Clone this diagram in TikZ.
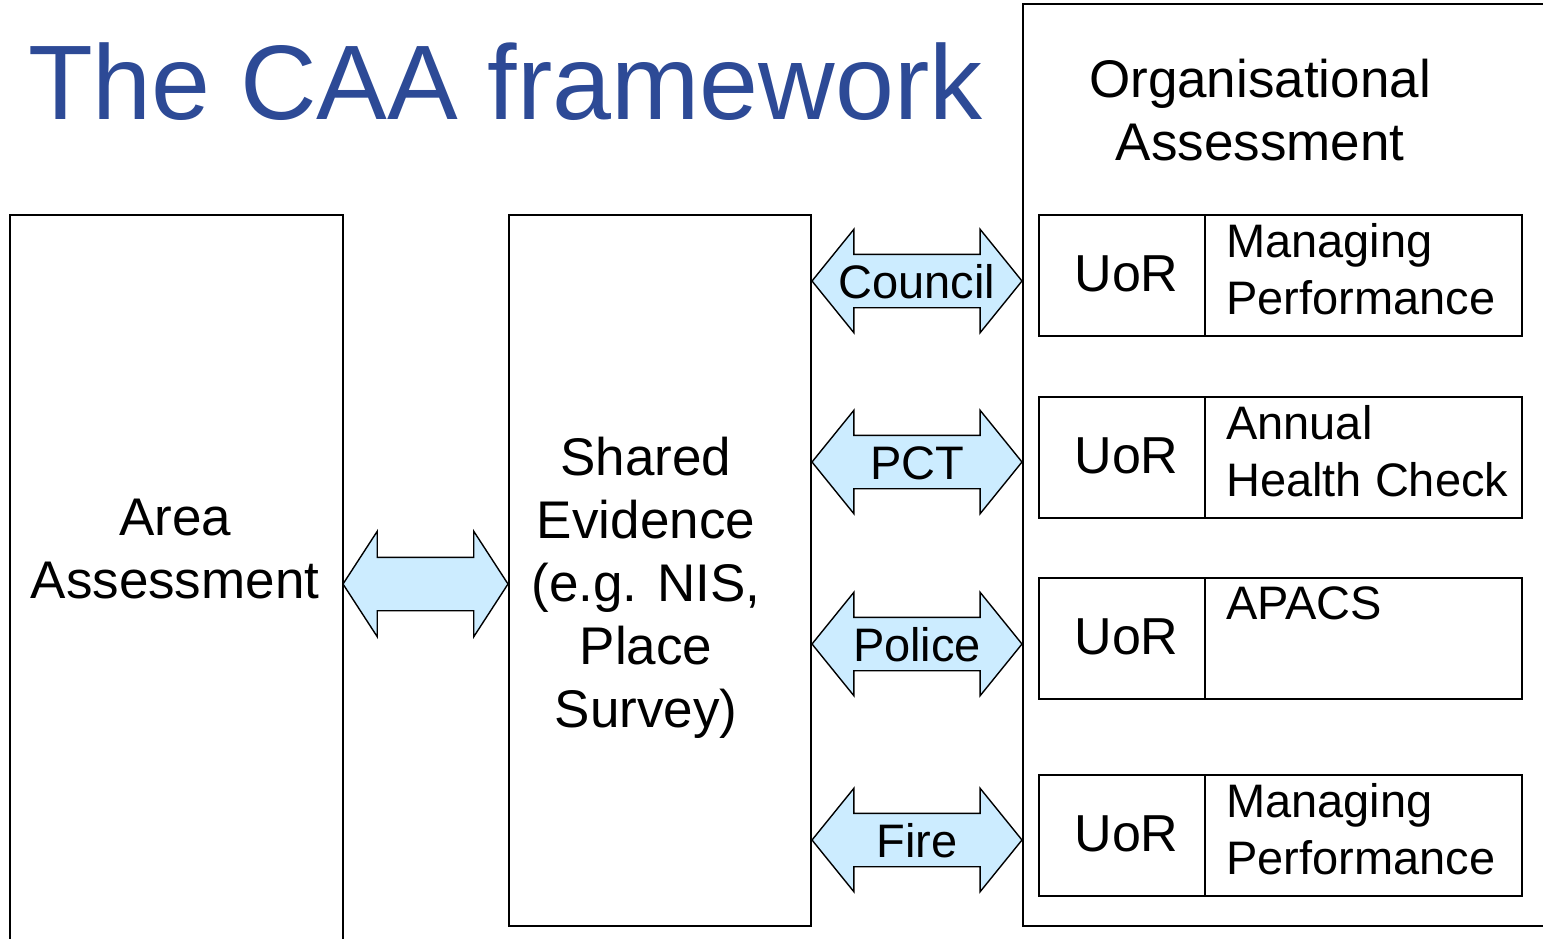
\documentclass[tikz,border=0pt]{standalone}
\usepackage{fontspec}
\setmainfont{Liberation Sans}
\usetikzlibrary{shapes.arrows}
\definecolor{titleblue}{HTML}{2D4A96}
\definecolor{arrowfill}{HTML}{CCECFF}
\begin{document}
\begin{tikzpicture}[x=1pt,y=-1pt,
  box/.style={draw=black, line width=1.5pt, inner sep=0pt, outer sep=0pt, anchor=north west},
  big/.style={font=\fontsize{53}{63}\selectfont, align=center, inner sep=0pt, anchor=north},
  celltext/.style={font=\fontsize{47}{57}\selectfont, align=left, inner sep=0pt, anchor=north west},
  uor/.style={box, font=\fontsize{52}{60}\selectfont, text height=37pt, text depth=6pt, minimum width=166pt, minimum height=121pt},
  rcell/.style={box, minimum width=317pt, minimum height=121pt},
  link/.style={double arrow, draw=black, line width=1.4pt, fill=arrowfill, outer sep=0pt,
    text height=34pt, text depth=0pt, inner xsep=0pt, inner ysep=9pt,
    double arrow head extend=25pt, font=\fontsize{47}{56}\selectfont},
]
\useasboundingbox (0,0) rectangle (1543,938);
\clip (0,0) rectangle (1543,938);

% title
\node[anchor=base west, text=titleblue, font=\fontsize{106}{120}\selectfont, inner sep=0pt] (title) at (28,119) {The CAA framework};

% main boxes
\node[box, minimum width=333pt, minimum height=800pt] (area) at (10,215) {};
\node[box, minimum width=302pt, minimum height=711pt] (shared) at (509,215) {};
\node[box, minimum width=600pt, minimum height=922pt] (org) at (1023,4) {};

\node[big] (areatext) at (175,499) {Area\\Assessment};
\node[big] (sharedtext) at (646,437) {Shared\\Evidence\\(e.g. NIS,\\Place\\Survey)};
\node[big] (orgtext) at (1260,59) {Organisational\\Assessment};

% units of resource
\node[uor] (u1) at (1039,215) {\hspace*{9pt}UoR};
\node[rcell] (r1) at (1205,215) {};
\node[uor] (u2) at (1039,397) {\hspace*{9pt}UoR};
\node[rcell] (r2) at (1205,397) {};
\node[uor] (u3) at (1039,578) {\hspace*{9pt}UoR};
\node[rcell] (r3) at (1205,578) {};
\node[uor] (u4) at (1039,775) {\hspace*{9pt}UoR};
\node[rcell] (r4) at (1205,775) {};

\node[celltext] (t1) at (1226,223) {Managing\\Performance};
\node[celltext] (t2) at (1226,405) {Annual\\Health Check};
\node[celltext] (t3) at (1226,586) {APACS};
\node[celltext] (t4) at (1226,783) {Managing\\Performance};

% arrows
\node[link, minimum height=165pt, double arrow head extend=26pt, double arrow tip angle=114] (aa) at (425.5,584) {};
\node[link, minimum height=210pt, double arrow tip angle=102] (council) at (917,281) {\makebox[0pt]{Council}};
\node[link, minimum height=210pt, double arrow tip angle=102] (pct) at (917,462) {\makebox[0pt]{PCT}};
\node[link, minimum height=210pt, double arrow tip angle=102] (police) at (917,644) {\makebox[0pt]{Police}};
\node[link, minimum height=210pt, double arrow tip angle=102] (fire) at (917,840) {\makebox[0pt]{Fire}};
\end{tikzpicture}
\end{document}
